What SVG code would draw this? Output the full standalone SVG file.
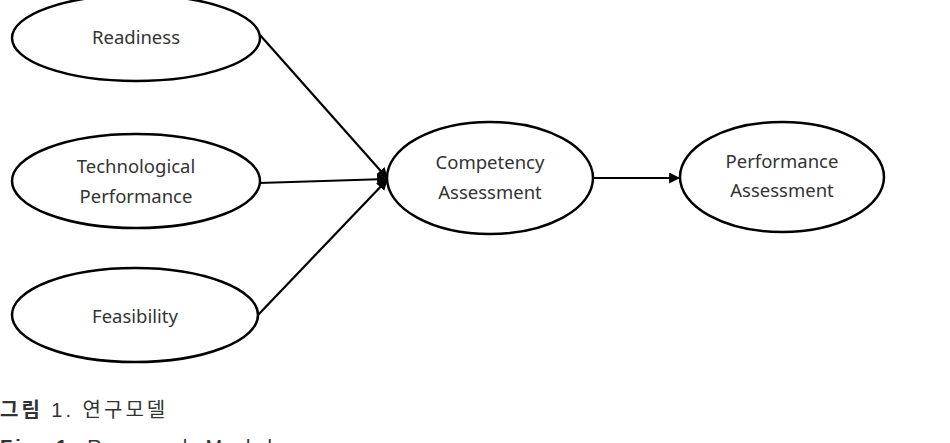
<svg xmlns="http://www.w3.org/2000/svg" width="950" height="443" viewBox="0 0 950 443">
<style>
.node ellipse{fill:#fff;stroke:#000;stroke-width:2.5}
.node text{font-family:"Noto Sans","Open Sans",sans-serif;font-size:18.5px;fill:#333;text-anchor:middle}
.edges line{stroke:#000;stroke-width:2.2}
.cap{font-family:"Liberation Sans","Noto Sans CJK KR",sans-serif;font-size:20px;fill:#333;letter-spacing:3px}
</style>
<defs>
<marker id="arr" viewBox="0 0 10 10" refX="9" refY="5" markerWidth="5" markerHeight="5" orient="auto" markerUnits="strokeWidth">
<path d="M0,0 L10,5 L0,10 z" fill="#000"/>
</marker>
</defs>
<g class="edges">
<line x1="260" y1="35" x2="387" y2="178" marker-end="url(#arr)"/>
<line x1="259" y1="183" x2="387" y2="179" marker-end="url(#arr)"/>
<line x1="258" y1="315" x2="387" y2="180" marker-end="url(#arr)"/>
<line x1="592" y1="178" x2="679" y2="178" marker-end="url(#arr)"/>
</g>
<g id="readiness" class="node">
<ellipse cx="136" cy="38" rx="124" ry="43"/>
<text x="136" y="44">Readiness</text>
</g>
<g id="tech" class="node">
<ellipse cx="136" cy="181" rx="124" ry="47"/>
<text x="136" y="173">Technological</text>
<text x="136" y="203">Performance</text>
</g>
<g id="feasibility" class="node">
<ellipse cx="135" cy="315" rx="123" ry="47"/>
<text x="135" y="323">Feasibility</text>
</g>
<g id="competency" class="node">
<ellipse cx="490" cy="178" rx="103" ry="56"/>
<text x="490" y="169">Competency</text>
<text x="490" y="199">Assessment</text>
</g>
<g id="performance" class="node">
<ellipse cx="782" cy="177" rx="102" ry="55"/>
<text x="782" y="168">Performance</text>
<text x="782" y="197">Assessment</text>
</g>
<text class="cap" x="0" y="417"><tspan font-weight="bold">그림</tspan> 1.  연구모델</text>
<text class="cap" x="0" y="454"><tspan font-weight="bold">Fig. 1.</tspan> Research Model</text>
</svg>
